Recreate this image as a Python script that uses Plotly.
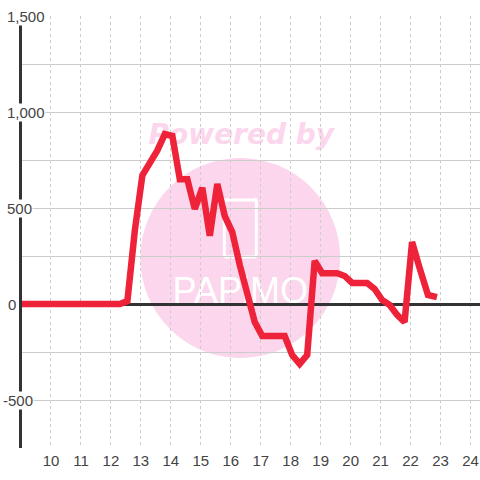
import plotly.graph_objects as go

hours = [8.9, 12.05, 12.3, 12.55, 12.8, 13.05, 13.3, 13.55, 13.8, 14.05, 14.3, 14.55, 14.8, 15.05, 15.3, 15.55, 15.8,
         16.05, 16.3, 16.55, 16.8, 17.05, 17.3, 17.55, 17.8, 18.05, 18.3, 18.55, 18.8, 19.05, 19.3, 19.55, 19.8,
         20.05, 20.3, 20.55, 20.8, 21.05, 21.3, 21.55, 21.8, 22.05, 22.3, 22.58, 22.88]
values = [0, 0, 0, 15, 385, 670, 735, 800, 885, 875, 650, 650, 495, 605, 355, 625, 458,
          375, 203, 47, -94, -167, -167, -167, -167, -266, -312, -266, 225, 160, 160, 160, 146,
          110, 110, 110, 78, 21, -5, -57, -94, 323, 188, 47, 36]
x_ticks = list(range(10, 25))
y_labels = [1500, 1000, 500, 0, -500]
y_label_left = [5, 5, 5, 6, 1]

GREY = "#444444"
PINK = "#fbd6ec"
L, R, T, B = 21.5, 0, 16, 32
W = H = 480


def px(p):
    return 10 + (p - 50.5) / 30


def py(p):
    return (304 - p) / 96 * 500


fig = go.Figure()
fig.add_trace(go.Scatter(x=hours, y=values, mode="lines", cliponaxis=False,
                         line=dict(color="#ee2238", width=6.5), hoverinfo="skip"))

phone = (f"M {px(224)},{py(200)} L {px(254)},{py(200)} Q {px(256)},{py(198)} {px(256)},{py(201)} "
         f"L {px(256)},{py(254)} Q {px(256)},{py(257)} {px(253)},{py(257)} L {px(227)},{py(257)} "
         f"Q {px(224)},{py(257)} {px(224)},{py(254)} Z")

shapes = [
    dict(type="circle", layer="below", x0=px(140), x1=px(340), y0=py(358), y1=py(158),
         fillcolor=PINK, line_width=0),
    dict(type="path", layer="below", path=phone, line=dict(color="white", width=3)),
    dict(type="rect", layer="below", x0=px(120), x1=px(362), y0=py(150), y1=py(114),
         line_width=0, fillcolor="rgba(0,0,0,0)",
         label=dict(text="<b><i>Powered by</i></b>", textposition="middle center",
                    font=dict(family="DejaVu Sans", size=28, color=PINK))),
    dict(type="rect", layer="below", x0=px(140), x1=px(340), y0=py(310), y1=py(264),
         line_width=0, fillcolor="rgba(0,0,0,0)",
         label=dict(text="PAPiMO", textposition="middle center",
                    font=dict(family="Liberation Sans", size=36, color="white"))),
]

annotations = [
    dict(xref="paper", yref="y", x=0, y=v, xanchor="left", yanchor="middle", xshift=left - L,
         text=f"{v:,}", showarrow=False, bgcolor="white", borderpad=0,
         font=dict(family="Liberation Sans", size=15, color=GREY))
    for v, left in zip(y_labels, y_label_left)
]

fig.update_layout(
    width=W, height=H, autosize=False, showlegend=False,
    margin=dict(l=L, r=R, t=T, b=B, pad=0),
    paper_bgcolor="white", plot_bgcolor="white",
    shapes=shapes, annotations=annotations,
    font=dict(family="Liberation Sans", size=15, color=GREY),
    xaxis=dict(range=[px(L), px(480)], tickmode="array", tickvals=x_ticks, ticks="",
               showgrid=True, gridcolor="#cccccc", gridwidth=1, griddash="3px,3px",
               zeroline=False, showline=False, ticklabelstandoff=2,
               tickfont=dict(family="Liberation Sans", size=15, color=GREY)),
    yaxis=dict(range=[-750, 1500], tickmode="linear", tick0=0, dtick=250, ticks="",
               showticklabels=False, showgrid=True, gridcolor="#cccccc", gridwidth=1,
               zeroline=True, zerolinecolor="#333333", zerolinewidth=3,
               showline=True, linecolor="#333333", linewidth=3),
)
fig.write_html("out.html", post_script="document.body.style.margin='0';document.body.style.overflow='hidden';",
               config={"displayModeBar": False})
